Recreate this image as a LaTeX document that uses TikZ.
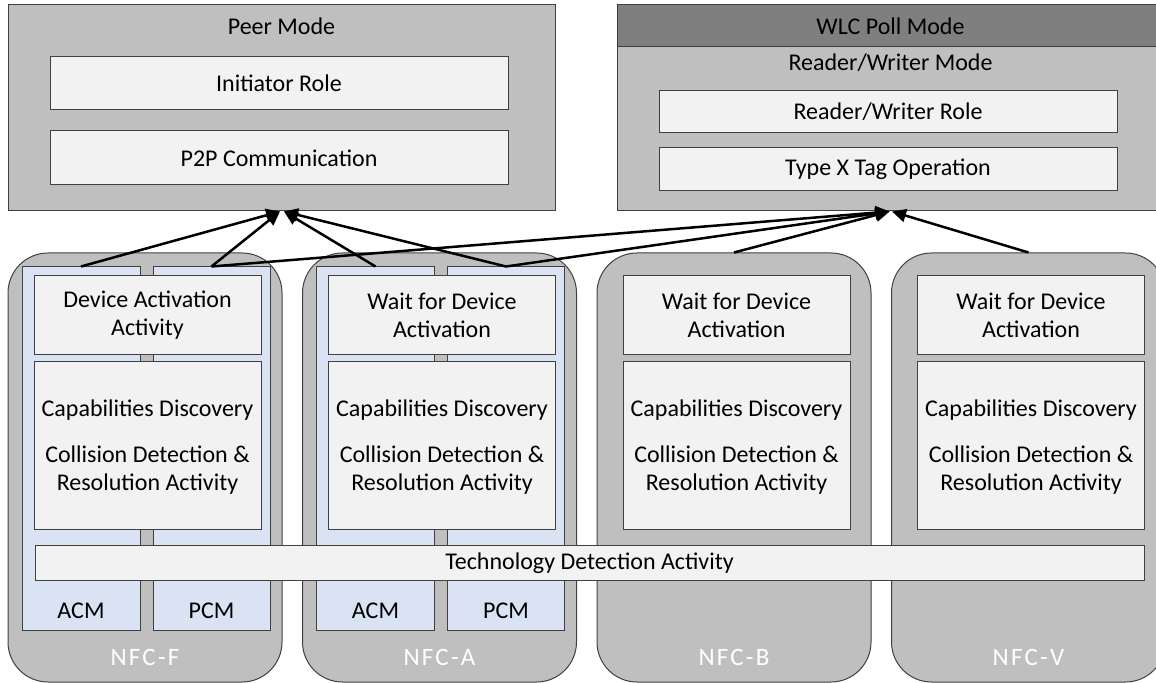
\documentclass[tikz,border=0pt]{standalone}
\usepackage{fontspec}
\setmainfont{Carlito}
\usetikzlibrary{fit,arrows.meta}
\definecolor{outergray}{HTML}{BFBFBF}
\definecolor{innergray}{HTML}{F2F2F2}
\definecolor{headgray}{HTML}{7F7F7F}
\definecolor{colblue}{HTML}{DAE3F3}
\definecolor{edgecol}{HTML}{404040}
\begin{document}
\begin{tikzpicture}[x=0.5pt,y=-0.5pt,
  every node/.style={font=\fontsize{12pt}{14pt}\selectfont, inner sep=0pt, align=center},
  modebox/.style={fill=outergray, draw=edgecol, line width=0.5pt},
  headbox/.style={fill=headgray, draw=edgecol, line width=0.5pt},
  innerbox/.style={fill=innergray, draw=edgecol, line width=0.5pt},
  techbox/.style={rounded corners=20pt, fill=outergray, draw=edgecol, line width=0.5pt},
  colbox/.style={fill=colblue, draw=edgecol, line width=0.5pt},
  plain/.style={text=black},
  techlabel/.style={text=white, font=\fontsize{12.5pt}{14pt}\selectfont\addfontfeatures{LetterSpace=9}},
  arrowline/.style={line width=1.25pt, -{Triangle[length=7pt,width=6.5pt]}}
]
\useasboundingbox (0,0) rectangle (1156,683);
\clip (0,0) rectangle (1156,683);

% Peer mode
\node[modebox, fit={(8,5) (555,211)}] (peer) {};
\node[plain] (peertitle) at (281.5,26) {Peer Mode};
\node[innerbox, fit={(50,57) (508,110)}] (init) {};
\node[plain] (inittext) at (init.center) {Initiator Role};
\node[innerbox, fit={(50,131) (508,185)}] (p2p) {};
\node[plain] (p2ptext) at (p2p.center) {P2P Communication};

% WLC / Reader-Writer mode
\node[modebox, fit={(617,5) (1164,211)}] (wlc) {};
\node[headbox, fit={(617,5) (1164,47)}] (wlchead) {};
\node[plain] (wlctitle) at (890.5,26) {WLC Poll Mode};
\node[plain] (rwtitle) at (890.5,63) {Reader/Writer Mode};
\node[innerbox, fit={(659,91) (1117,133)}] (rwrole) {};
\node[plain] (rwroletext) at (rwrole.center) {Reader/Writer Role};
\node[innerbox, fit={(659,148) (1117,191)}] (typex) {};
\node[plain] (typextext) at (typex.center) {Type X Tag Operation};

% technology columns
\foreach \xo/\nm/\lab in {8/F/NFC-F, 302.5/A/NFC-A, 597/B/NFC-B, 891.5/V/NFC-V}{
  \node[techbox, fit={(\xo,253) (\xo+274,682)}] (tech\nm) {};
  \node[techlabel] (lab\nm) at (\xo+137,657) {\lab};
}
\foreach \xo/\nm in {8/F, 302.5/A}{
  \node[colbox, fit={(\xo+14,267) (\xo+132,630)}] (acmcol\nm) {};
  \node[colbox, fit={(\xo+145,267) (\xo+262,630)}] (pcmcol\nm) {};
  \node[plain] (acm\nm) at (\xo+73,611) {ACM};
  \node[plain] (pcm\nm) at (\xo+203.5,611) {PCM};
}
\foreach \xo/\nm/\dv in {8/F/{Device Activation\\Activity}, 302.5/A/{Wait for Device\\Activation}, 597/B/{Wait for Device\\Activation}, 891.5/V/{Wait for Device\\Activation}}{
  \node[innerbox, fit={(\xo+26,276) (\xo+253,355)}] (dev\nm) {};
  \node[plain] (devtext\nm) at (dev\nm.center) {\dv};
  \node[innerbox, fit={(\xo+26,362) (\xo+253,530)}] (cap\nm) {};
  \node[plain] (captext\nm) at ([yshift=-0.5pt]cap\nm.center) {Capabilities Discovery\\[9pt]Collision Detection \&\\Resolution Activity};
}

\node[innerbox, fit={(35,546) (1144,580)}] (techdet) {};
\node[plain] (techdettext) at (techdet.center) {Technology Detection Activity};

% arrows
\draw[arrowline] (acmcolF.north) -- ([xshift=-0.75pt]peer.south);
\draw[arrowline] (pcmcolF.north) -- ([xshift=-0.75pt]peer.south);
\draw[arrowline] (acmcolA.north) -- ([xshift=1.25pt]peer.south);
\draw[arrowline] (pcmcolA.north) -- ([xshift=1.25pt]peer.south);
\draw[arrowline] (pcmcolF.north) -- ([xshift=-0.5pt]wlc.south);
\draw[arrowline] (pcmcolA.north) -- ([xshift=-0.5pt]wlc.south);
\draw[arrowline] (techB.north) -- ([xshift=-0.5pt]wlc.south);
\draw[arrowline] (techV.north) -- ([xshift=0.75pt]wlc.south);
\end{tikzpicture}
\end{document}
